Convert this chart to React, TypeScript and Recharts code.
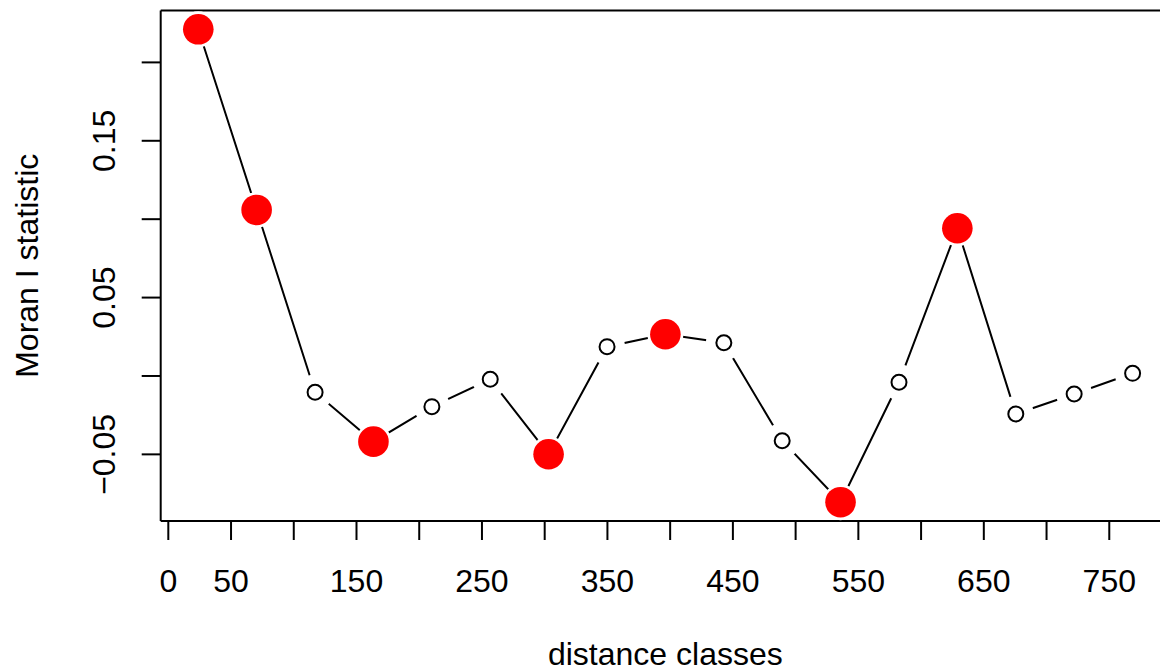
import { LineChart, Line, XAxis, YAxis, ReferenceLine } from 'recharts';

// distance class midpoints and Moran's I per class
const distanceClasses = [23.9, 70.4, 117.0, 163.5, 210.1, 256.6, 303.1, 349.7, 396.2, 442.8, 489.3, 535.8, 582.4, 628.9, 675.5, 722.0, 768.6];
const moranI = [0.2211, 0.1059, -0.0104, -0.0419, -0.0196, -0.0021, -0.0499, 0.0187, 0.0266, 0.0212, -0.0413, -0.0805, -0.004, 0.0942, -0.0242, -0.0115, 0.0017];
const significant = [true, true, false, true, false, false, true, false, true, false, false, true, false, true, false, false, false];

const xTicks = [0, 50, 100, 150, 200, 250, 300, 350, 400, 450, 500, 550, 600, 650, 700, 750];
const xTickLabels = ['0', '50', '', '150', '', '250', '', '350', '', '450', '', '550', '', '650', '', '750'];
const yTicks = [-0.05, 0, 0.05, 0.1, 0.15, 0.2];
const yTickLabels = ['\u22120.05', '', '0.05', '', '0.15', ''];

const X_DOMAIN = [-6.06, 798.4];
const Y_DOMAIN = [-0.0925, 0.2331];

const data = distanceClasses.map((x, i) => ({ x, y: moranI[i], sig: significant[i] }));

const FONT = '"Liberation Sans", Arial, Helvetica, sans-serif';

const XTick = ({ x, y, payload }: any) => {
  const label = xTickLabels[xTicks.indexOf(payload.value)];
  if (!label) return null;
  return (
    <text x={x} y={y + 52} textAnchor="middle" fontSize={32} fontFamily={FONT} fill="#000">
      {label}
    </text>
  );
};

const YTick = ({ x, y, payload }: any) => {
  const label = yTickLabels[yTicks.indexOf(payload.value)];
  if (!label) return null;
  const tx = x - 27;
  return (
    <text x={tx} y={y} textAnchor="middle" fontSize={32} fontFamily={FONT} fill="#000" transform={`rotate(-90, ${tx}, ${y})`}>
      {label}
    </text>
  );
};

// type="b" look: white disk leaves a gap in the line, then the marker
const MoranDot = (props: any) => {
  const { cx, cy, payload, index } = props;
  return (
    <g key={index}>
      <circle cx={cx} cy={cy} r={18} fill="#fff" />
      {payload.sig ? (
        <circle cx={cx} cy={cy} r={15.3} fill="#ff0000" />
      ) : (
        <circle cx={cx} cy={cy} r={7.5} fill="#fff" stroke="#000" strokeWidth={2} />
      )}
    </g>
  );
};

export default function App() {
  return (
    <div style={{ position: 'fixed', left: 0, top: 0, width: 1160, height: 671, overflow: 'hidden', background: '#fff' }}>
      <LineChart width={1180} height={671} data={data} margin={{ top: 10.5, right: 10, bottom: 0, left: 0 }}>
        <XAxis
          dataKey="x"
          type="number"
          domain={X_DOMAIN}
          ticks={xTicks}
          interval={0}
          tickSize={19}
          tickMargin={0}
          height={150}
          tick={<XTick />}
          tickLine={{ stroke: '#000', strokeWidth: 2 }}
          axisLine={{ stroke: '#000', strokeWidth: 2 }}
          allowDataOverflow
          label={{
            content: ({ viewBox }: any) => (
              <text x={viewBox.x + viewBox.width / 2} y={viewBox.y + 144} textAnchor="middle" fontSize={32} fontFamily={FONT} fill="#000">
                distance classes
              </text>
            ),
          }}
        />
        <YAxis
          type="number"
          domain={Y_DOMAIN}
          ticks={yTicks}
          interval={0}
          width={160.7}
          tickSize={19}
          tickMargin={0}
          tick={<YTick />}
          tickLine={{ stroke: '#000', strokeWidth: 2 }}
          axisLine={{ stroke: '#000', strokeWidth: 2 }}
          allowDataOverflow
          label={{
            content: ({ viewBox }: any) => {
              const lx = viewBox.x + 38;
              const ly = viewBox.y + viewBox.height / 2;
              return (
                <text x={lx} y={ly} textAnchor="middle" fontSize={32} fontFamily={FONT} fill="#000" transform={`rotate(-90, ${lx}, ${ly})`}>
                  Moran I statistic
                </text>
              );
            },
          }}
        />
        {/* top edge of the plot box */}
        <ReferenceLine y={Y_DOMAIN[1]} stroke="#000" strokeWidth={2} ifOverflow="extendDomain" />
        <Line
          dataKey="y"
          type="linear"
          stroke="#000"
          strokeWidth={2}
          dot={<MoranDot />}
          activeDot={false}
          isAnimationActive={false}
        />
      </LineChart>
    </div>
  );
}
